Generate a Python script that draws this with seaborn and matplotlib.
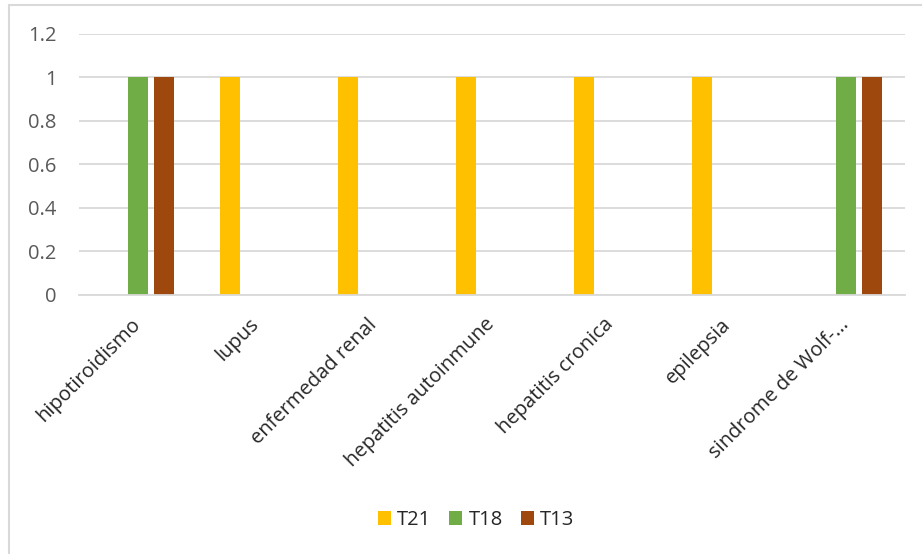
import matplotlib
matplotlib.use("Agg")
import matplotlib.pyplot as plt
import seaborn as sns
import pandas as pd
from matplotlib.lines import Line2D
from matplotlib.patches import Patch
from matplotlib.transforms import ScaledTranslation

categories = ["hipotiroidismo", "lupus", "enfermedad renal", "hepatitis autoinmune",
              "hepatitis cronica", "epilepsia", "sindrome de Wolf-..."]
series = ["T21", "T18", "T13"]
t21 = [0, 1, 1, 1, 1, 1, 0]
t18 = [1, 0, 0, 0, 0, 0, 1]
t13 = [1, 0, 0, 0, 0, 0, 1]
yticks = [0, 0.2, 0.4, 0.6, 0.8, 1, 1.2]
ytick_labels = ["0", "0.2", "0.4", "0.6", "0.8", "1", "1.2"]
colors = ["#FFC000", "#70AD47", "#9E480E"]

rows = []
for name, vals in zip(series, [t21, t18, t13]):
    for c, v in zip(categories, vals):
        rows.append({"cat": c, "serie": name, "val": v})
df = pd.DataFrame(rows)

sns.set_theme(style="white")
plt.rcParams["font.family"] = ["Open Sans", "DejaVu Sans"]

fig = plt.figure(figsize=(9.22, 5.54), dpi=100)
ax = fig.add_axes([79/922, 1-295/554, (905-79)/922, (295-33.5)/554])

sns.barplot(data=df, x="cat", y="val", hue="serie", order=categories, hue_order=series,
            palette=colors, width=0.661, gap=0.23, linewidth=0, saturation=1,
            errorbar=None, legend=False, ax=ax)

ax.set_ylim(0, 1.2)
ax.set_xlim(-0.5, len(categories) - 0.5)
ax.set_yticks(yticks)
ax.set_yticklabels(ytick_labels, color="#595959", fontsize=14.5)
ax.yaxis.grid(True, color="#D9D9D9", linewidth=1.3)
ax.set_axisbelow(True)
for s in ["left", "right", "top"]:
    ax.spines[s].set_visible(False)
ax.spines["bottom"].set_color("#D9D9D9")
ax.spines["bottom"].set_linewidth(1.3)
ax.tick_params(axis="both", length=0)
ax.tick_params(axis="y", pad=16)
ax.set_xlabel("")
ax.set_ylabel("")
ax.set_xticks(range(len(categories)))
ax.set_xticklabels(categories, rotation=45, ha="right", rotation_mode="anchor",
                   fontsize=14.5, color="#262626")
ax.tick_params(axis="x", pad=14)
shift = ScaledTranslation(-7/100, 0, fig.dpi_scale_trans)
for lab in ax.get_xticklabels():
    lab.set_transform(lab.get_transform() + shift)

handles = [Patch(facecolor=c, edgecolor="none") for c in colors]
fig.legend(handles, series, loc="center", bbox_to_anchor=(476/922, 1-520/554), ncol=3,
           frameon=False, fontsize=14.5, handlelength=0.65, handleheight=0.65,
           handletextpad=0.3, columnspacing=0.9)

fig.add_artist(Line2D([9/922, 9/922], [0, 1-5/554], transform=fig.transFigure,
                      color="#D9D9D9", linewidth=1.5))
fig.add_artist(Line2D([9/922, 1], [1-5/554, 1-5/554], transform=fig.transFigure,
                      color="#D9D9D9", linewidth=1.5))

fig.savefig("out.png", dpi=100, facecolor="white")
